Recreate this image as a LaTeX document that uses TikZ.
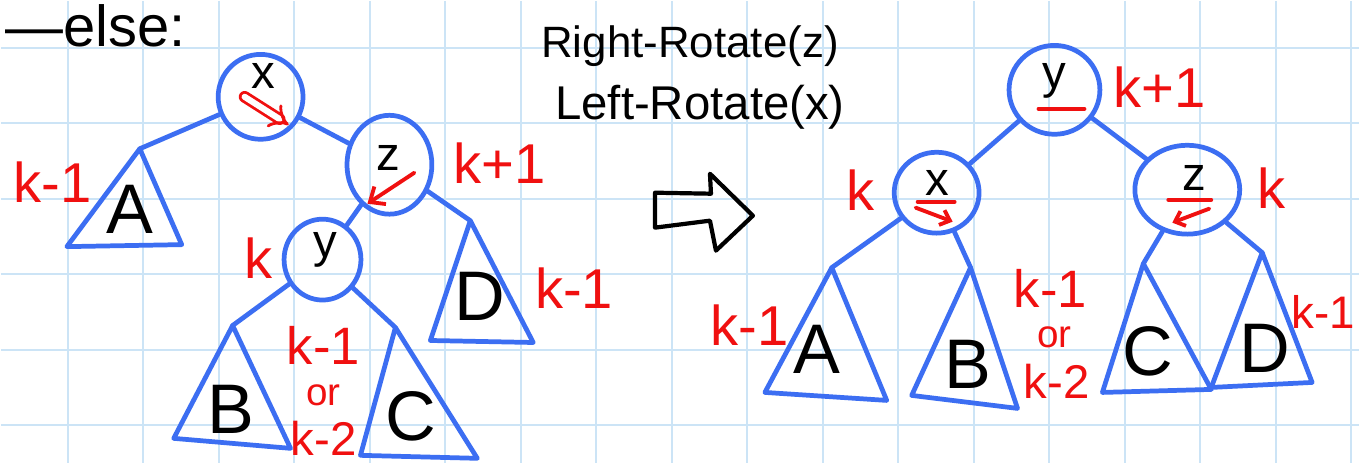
\documentclass[tikz,border=0pt]{standalone}
\usepackage{fontspec}
\setmainfont{Liberation Sans}
\usetikzlibrary{shapes.geometric,arrows.meta}
\definecolor{gridblue}{RGB}{204,228,246}
\definecolor{penblue}{RGB}{60,110,242}
\definecolor{penred}{RGB}{240,16,16}
\newcommand{\fsz}[1]{\fontsize{#1}{#1}\selectfont}

\begin{document}
\begin{tikzpicture}[x=0.02cm, y=-0.02cm, >=Stealth,
    vert/.style={ellipse, draw=penblue, line width=2.7pt, inner sep=0pt},
    edge/.style={draw=penblue, line width=2.7pt, line cap=round},
    tri/.style={draw=penblue, line width=2.7pt, line join=round, line cap=round},
    ht/.style={text=penred, font=\fsz{32}, anchor=base, inner sep=0pt},
    sub/.style={font=\fsz{40}, anchor=base, inner sep=0pt},
    key/.style={font=\fsz{27}, anchor=base, inner sep=0pt},
    pen/.style={penred, line width=2.2pt, line cap=round}]
  % paper
  \fill[white] (0,0) rectangle (1360,463);
  \foreach \g in {0,...,17} \draw[gridblue, line width=1.1pt] ({67+75.6*\g},0) -- ({67+75.6*\g},463);
  \foreach \g in {0,...,5} \draw[gridblue, line width=1.1pt] (0,{47+75.6*\g}) -- (1360,{47+75.6*\g});
  \useasboundingbox (0,0) rectangle (1360,463);

  \node[anchor=base west, font=\fsz{33}, inner sep=0pt] (head) at (4,46) {—else:};
  \node[font=\fsz{25}, anchor=base] (rr) at (690,57) {Right-Rotate(z)};
  \node[font=\fsz{27}, anchor=base] (lr) at (700,119) {Left-Rotate(x)};
  \draw[line width=2.4pt, line join=round] (655,192) -- (711,193) -- (710,173) -- (753,215)
    -- (716,250) -- (710,220) -- (655,227) -- cycle;

  % before
  \node[vert, minimum width=1.7cm, minimum height=1.7cm] (xl) at (260,96) {};
  \node[vert, minimum width=1.7cm, minimum height=1.98cm] (zl) at (389,164) {};
  \node[vert, minimum width=1.54cm, minimum height=1.62cm] (yl) at (322,259) {};
  \coordinate (topAl) at (139,148);
  \coordinate (topBl) at (232,325);
  \coordinate (topCl) at (395,327);
  \coordinate (topDl) at (470,220);
  \draw[edge] (xl) -- (topAl);
  \draw[edge] (xl) -- (zl);
  \draw[edge] (zl) -- (yl);
  \draw[edge] (zl) -- (topDl);
  \draw[edge] (yl) -- (topBl);
  \draw[edge] (yl) -- (topCl);
  \draw[tri] (topAl) -- (66,246) -- (181,244) -- cycle;
  \draw[tri] (topDl) -- (430,340) -- (533,342) -- cycle;
  \draw[tri] (topBl) -- (173,438) -- (290,448) -- cycle;
  \draw[tri] (topCl) -- (360,455) -- (477,458) -- cycle;
  \node[key] at (263,88) {x};
  \node[key] at (388,170) {z};
  \node[key] at (325,257) {y};
  \node[sub] at (129,233) {A};
  \node[sub] at (480,320) {D};
  \node[sub] at (230,433) {B};
  \node[sub] at (410,440) {C};
  \draw[pen, double, double distance=3.5pt, line width=1.6pt, -{Implies}] (244,96) -- (288,124);
  \draw[pen, -{Straight Barb[length=7pt, width=12pt]}] (414,172) -- (367,203);
  \node[ht] at (52,202) {k-1};
  \node[ht] at (499,183) {k+1};
  \node[ht] at (258,278) {k};
  \node[ht] at (574,308) {k-1};
  \node[ht, font=\fsz{30}] at (323,364) {k-1};
  \node[ht, font=\fsz{22}] at (323,405) {or};
  \node[ht, font=\fsz{27}] at (323,455) {k-2};

  % after
  \node[vert, minimum width=1.82cm, minimum height=1.78cm] (yr) at (1055,89) {};
  \node[vert, minimum width=1.7cm, minimum height=1.62cm] (xr) at (937,192) {};
  \node[vert, minimum width=2.1cm, minimum height=1.78cm] (zr) at (1188,189) {};
  \coordinate (topAr) at (832,267);
  \coordinate (topBr) at (971,267);
  \coordinate (topCr) at (1144,263);
  \coordinate (topDr) at (1263,252);
  \draw[edge] (yr) -- (xr);
  \draw[edge] (yr) -- (zr);
  \draw[edge] (xr) -- (topAr);
  \draw[edge] (xr) -- (topBr);
  \draw[edge] (zr) -- (topCr);
  \draw[edge] (zr) -- (topDr);
  \draw[tri] (topAr) -- (765,392) -- (887,400) -- cycle;
  \draw[tri] (topBr) -- (912,395) -- (1018,408) -- cycle;
  \draw[tri] (topCr) -- (1103,392) -- (1212,389) -- cycle;
  \draw[tri] (topDr) -- (1212,387) -- (1313,382) -- cycle;
  \node[key] at (1055,88) {y};
  \node[key] at (938,195) {x};
  \node[key] at (1195,190) {z};
  \node[sub] at (817,373) {A};
  \node[sub] at (968,388) {B};
  \node[sub] at (1148,375) {C};
  \node[sub] at (1266,372) {D};
  \draw[pen] (1039,108) -- (1085,108);
  \draw[pen] (918,201) -- (955,201);
  \draw[pen, -{Straight Barb[length=5pt, width=9pt]}] (916,207) -- (953,221);
  \draw[pen] (1169,199) -- (1212,199);
  \draw[pen, -{Straight Barb[length=5pt, width=9pt]}] (1210,208) -- (1173,222);
  \node[ht] at (1160,107) {k+1};
  \node[ht] at (861,210) {k};
  \node[ht] at (1272,208) {k};
  \node[ht] at (750,345) {k-1};
  \node[ht, font=\fsz{30}] at (1051,307) {k-1};
  \node[ht, font=\fsz{22}] at (1055,347) {or};
  \node[ht, font=\fsz{27}] at (1057,398) {k-2};
  \node[ht, font=\fsz{26}] at (1324,328) {k-1};
\end{tikzpicture}
\end{document}
